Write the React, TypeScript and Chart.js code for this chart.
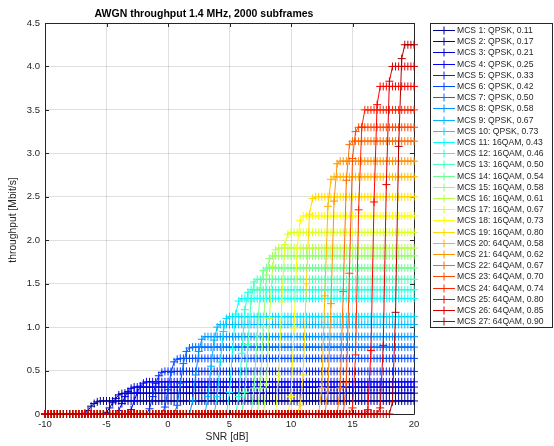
import { useEffect, useRef } from 'react';
import { Chart, registerables } from 'chart.js';

Chart.register(...registerables);

const titleText = 'AWGN throughput 1.4 MHz, 2000 subframes';
const xAxisTitle = 'SNR [dB]';
const yAxisTitle = 'throughput [Mbit/s]';

const mcsLabels = [
  'MCS 1: QPSK, 0.11', 'MCS 2: QPSK, 0.17', 'MCS 3: QPSK, 0.21', 'MCS 4: QPSK, 0.25',
  'MCS 5: QPSK, 0.33', 'MCS 6: QPSK, 0.42', 'MCS 7: QPSK, 0.50', 'MCS 8: QPSK, 0.58',
  'MCS 9: QPSK, 0.67', 'MCS 10: QPSK, 0.73', 'MCS 11: 16QAM, 0.43', 'MCS 12: 16QAM, 0.46',
  'MCS 13: 16QAM, 0.50', 'MCS 14: 16QAM, 0.54', 'MCS 15: 16QAM, 0.58', 'MCS 16: 16QAM, 0.61',
  'MCS 17: 16QAM, 0.67', 'MCS 18: 16QAM, 0.73', 'MCS 19: 16QAM, 0.80', 'MCS 20: 64QAM, 0.58',
  'MCS 21: 64QAM, 0.62', 'MCS 22: 64QAM, 0.67', 'MCS 23: 64QAM, 0.70', 'MCS 24: 64QAM, 0.74',
  'MCS 25: 64QAM, 0.80', 'MCS 26: 64QAM, 0.85', 'MCS 27: 64QAM, 0.90',
];

// SNR sample grid [dB]
const snrMin = -10;
const snrMax = 20;
const snrStep = 0.25;

// saturated throughput of each MCS [Mbit/s]
const plateauThroughput = [
  0.15, 0.24, 0.31, 0.37, 0.49, 0.64, 0.77, 0.89, 1.03, 1.12,
  1.33, 1.43, 1.55, 1.68, 1.82, 1.91, 2.09, 2.28, 2.50, 2.73,
  2.91, 3.14, 3.30, 3.50, 3.77, 4.00, 4.25,
];

// first SNR sample [dB] with non-zero throughput
const riseStartSnr = [
  -6.75, -5.0, -4.0, -3.0, -1.5, -0.25, 0.75, 2.0, 3.25, 4.0,
  5.0, 5.75, 6.25, 7.0, 7.5, 8.0, 9.0, 10.0, 10.75, 12.5,
  13.0, 14.0, 14.5, 15.0, 16.25, 17.25, 18.25,
];

// throughput samples on the rising edge (consecutive SNR samples)
const riseValues = [
  [0.01, 0.04, 0.09, 0.12, 0.14],
  [0.02, 0.07, 0.13, 0.18, 0.22, 0.235],
  [0.04, 0.12, 0.2, 0.26, 0.295],
  [0.05, 0.15, 0.25, 0.32, 0.355],
  [0.06, 0.2, 0.35, 0.44, 0.48],
  [0.08, 0.28, 0.48, 0.6, 0.63],
  [0.1, 0.35, 0.58, 0.72, 0.76],
  [0.15, 0.45, 0.72, 0.86],
  [0.2, 0.55, 0.85, 1.0],
  [0.2, 0.6, 0.95, 1.1],
  [0.25, 0.75, 1.15, 1.3],
  [0.2, 0.7, 1.2, 1.4],
  [0.25, 0.8, 1.3, 1.52],
  [0.3, 0.9, 1.45, 1.65],
  [0.3, 1.0, 1.6, 1.79],
  [0.35, 1.1, 1.7, 1.89],
  [0.44, 1.29, 1.95, 2.07],
  [0.2, 0.99, 1.91, 2.23],
  [0.1, 0.45, 1.5, 2.3, 2.48],
  [0.3, 1.36, 2.39, 2.7],
  [0.26, 1.27, 2.45, 2.88],
  [0.3, 1.41, 2.69, 3.1],
  [0.36, 1.62, 2.94, 3.25],
  [0.07, 0.68, 2.35, 3.3],
  [0.05, 0.73, 2.44, 3.56],
  [0.07, 0.79, 2.64, 3.83],
  [0.14, 1.17, 3.08, 4.09],
];

// jet(27) colormap
const seriesColors = [
  'rgb(0,0,146)', 'rgb(0,0,182)', 'rgb(0,0,219)', 'rgb(0,0,255)', 'rgb(0,36,255)',
  'rgb(0,73,255)', 'rgb(0,109,255)', 'rgb(0,146,255)', 'rgb(0,182,255)', 'rgb(0,219,255)',
  'rgb(0,255,255)', 'rgb(36,255,219)', 'rgb(73,255,182)', 'rgb(109,255,146)', 'rgb(146,255,109)',
  'rgb(182,255,73)', 'rgb(219,255,36)', 'rgb(255,255,0)', 'rgb(255,219,0)', 'rgb(255,182,0)',
  'rgb(255,146,0)', 'rgb(255,109,0)', 'rgb(255,73,0)', 'rgb(255,36,0)', 'rgb(255,0,0)',
  'rgb(219,0,0)', 'rgb(182,0,0)',
];

const xTickValues = [-10, -5, 0, 5, 10, 15, 20];
const yTickValues = [0, 0.5, 1, 1.5, 2, 2.5, 3, 3.5, 4, 4.5];

const FONT = '"Liberation Sans", Arial, Helvetica, sans-serif';
const TEXT = '#262626';

function buildSeries(i: number) {
  const pts: { x: number; y: number }[] = [];
  const n = Math.round((snrMax - snrMin) / snrStep);
  const startIdx = Math.round((riseStartSnr[i] - snrMin) / snrStep);
  const rise = riseValues[i];
  for (let k = 0; k <= n; k++) {
    const x = snrMin + k * snrStep;
    let y: number;
    if (k < startIdx) y = 0;
    else if (k - startIdx < rise.length) y = rise[k - startIdx];
    else y = plateauThroughput[i];
    pts.push({ x, y });
  }
  return pts;
}

const decorPlugin = {
  id: 'decor',
  beforeDatasetsDraw(chart: any) {
    const { ctx, chartArea } = chart;
    const { left, right, top, bottom } = chartArea;
    const xs = chart.scales.x;
    const ys = chart.scales.y;
    ctx.save();
    ctx.strokeStyle = TEXT;
    ctx.lineWidth = 1;
    ctx.beginPath();
    ctx.rect(Math.round(left) + 0.5, Math.round(top) + 0.5, Math.round(right - left), Math.round(bottom - top));
    ctx.stroke();
    const tl = 4;
    ctx.beginPath();
    for (const v of xTickValues) {
      const px = Math.round(xs.getPixelForValue(v)) + 0.5;
      ctx.moveTo(px, bottom); ctx.lineTo(px, bottom - tl);
      ctx.moveTo(px, top); ctx.lineTo(px, top + tl);
    }
    for (const v of yTickValues) {
      const py = Math.round(ys.getPixelForValue(v)) + 0.5;
      ctx.moveTo(left, py); ctx.lineTo(left + tl, py);
      ctx.moveTo(right, py); ctx.lineTo(right - tl, py);
    }
    ctx.stroke();
    ctx.restore();
  },
  afterDraw(chart: any) {
    const { ctx } = chart;
    ctx.save();
    // title
    ctx.fillStyle = '#000';
    ctx.font = `bold 10.5px ${FONT}`;
    ctx.textAlign = 'center';
    ctx.textBaseline = 'middle';
    ctx.fillText(titleText, 204, 14);
    // axis titles
    ctx.fillStyle = TEXT;
    ctx.font = `10.3px ${FONT}`;
    ctx.fillText(xAxisTitle, 227, 437);
    ctx.save();
    ctx.translate(13, 220);
    ctx.rotate(-Math.PI / 2);
    ctx.fillText(yAxisTitle, 0, 0);
    ctx.restore();
    // legend
    const bx = 430.5, by = 23.5, bw = 122, bh = 304;
    ctx.fillStyle = '#fff';
    ctx.fillRect(bx, by, bw, bh);
    ctx.strokeStyle = TEXT;
    ctx.lineWidth = 1;
    ctx.strokeRect(bx, by, bw, bh);
    ctx.font = `8.6px ${FONT}`;
    ctx.textAlign = 'left';
    ctx.textBaseline = 'middle';
    for (let i = 0; i < mcsLabels.length; i++) {
      const y = Math.round(30 + i * 11.2) + 0.5;
      ctx.strokeStyle = seriesColors[i];
      ctx.beginPath();
      ctx.moveTo(433, y); ctx.lineTo(455, y);
      ctx.moveTo(444, y - 4); ctx.lineTo(444, y + 4);
      ctx.stroke();
      ctx.fillStyle = TEXT;
      ctx.fillText(mcsLabels[i], 457, y + 0.5);
    }
    ctx.restore();
  },
};

export default function App() {
  const ref = useRef<HTMLCanvasElement | null>(null);
  useEffect(() => {
    if (!ref.current) return;
    const datasets = mcsLabels.map((label, i) => ({
      label,
      data: buildSeries(i),
      borderColor: seriesColors[i],
      backgroundColor: seriesColors[i],
      pointBorderColor: seriesColors[i],
      borderWidth: 1,
      pointStyle: 'cross' as const,
      pointRadius: 4,
      pointBorderWidth: 1,
      tension: 0,
      clip: false as any,
      order: mcsLabels.length - i,
    }));
    const chart = new Chart(ref.current, {
      type: 'line',
      data: { datasets },
      options: {
        animation: false,
        responsive: false,
        devicePixelRatio: 1,
        layout: { padding: { left: 0, top: 23, right: 140, bottom: 0 } },
        plugins: { legend: { display: false }, tooltip: { enabled: false }, title: { display: false } },
        scales: {
          x: {
            type: 'linear',
            min: snrMin,
            max: snrMax,
            afterBuildTicks: (s: any) => { s.ticks = xTickValues.map((v) => ({ value: v })); },
            afterFit: (s: any) => { s.height = 32; },
            ticks: { color: TEXT, font: { family: FONT, size: 9.5 }, padding: 5, maxRotation: 0 },
            grid: { color: 'rgba(38,38,38,0.15)', drawTicks: false },
            border: { display: false },
          },
          y: {
            type: 'linear',
            min: 0,
            max: 4.5,
            afterBuildTicks: (s: any) => { s.ticks = yTickValues.map((v) => ({ value: v })); },
            afterFit: (s: any) => { s.width = 45; },
            ticks: { color: TEXT, font: { family: FONT, size: 9.5 }, padding: 5 },
            grid: { color: 'rgba(38,38,38,0.15)', drawTicks: false },
            border: { display: false },
          },
        },
      },
      plugins: [decorPlugin],
    });
    return () => chart.destroy();
  }, []);
  return (
    <div style={{ position: 'absolute', left: 0, top: 0, width: 554, height: 446, background: '#fff' }}>
      <canvas ref={ref} width={554} height={446} />
    </div>
  );
}
